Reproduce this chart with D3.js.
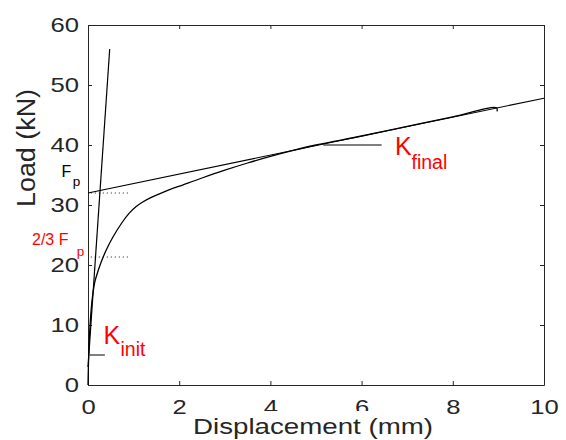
<!DOCTYPE html>
<html><head><meta charset="utf-8">
<script src="https://cdn.jsdelivr.net/npm/d3@7"></script>
<style>
body{margin:0;background:#fff;}
text{font-family:"Liberation Sans",Arial,Helvetica,sans-serif;}
</style></head>
<body><svg id="c" width="566" height="440"></svg>
<script>
const xTicks=[0,2,4,6,8,10];
const yTicks=[0,10,20,30,40,50,60];
const curveX=[0,0.01,0.025,0.045,0.07,0.1,0.15,0.22,0.3,0.4,0.55,0.74,0.9,1.05,1.2,1.4,1.67,2.1,2.5,3.0,3.5,4.0,4.5,5.0,6.0,7.0,8.0,8.96,8.97];
const curveY=[0,3.5,7,10,12.6,14.8,17.2,19.0,20.7,22.5,24.7,27.0,28.6,29.7,30.5,31.3,32.2,33.4,34.5,35.8,37.0,38.1,39.1,40.0,41.5,43.1,44.7,46.2,45.6];
const finalX=[0,10], finalY=[32,47.8];
const initX=[0,0.476], initY=[3,56];
const fpY=32, twoThirdFpY=21.33, dottedX=[0.06,0.92];
const kinitPtrX=[0.044,0.37], kinitPtrY=5;
const kfinalPtrX=[5.16,6.44], kfinalPtrY=40;

const svg=d3.select("#c");
const L=88,T=25,W=456,H=360;
const x=d3.scaleLinear().domain([0,10]).range([L,L+W]);
const y=d3.scaleLinear().domain([0,60]).range([T+H,T]);
const axCol="#262626";

function styleAxis(g){
  g.selectAll("path.domain").attr("stroke",axCol).attr("stroke-width",1);
  g.selectAll(".tick line").attr("stroke",axCol);
  g.selectAll("text").attr("fill",axCol).attr("font-size",21)
   .attr("font-family","Liberation Sans, Arial, sans-serif");
}
const gx=svg.append("g").attr("transform",`translate(0,${T+H})`)
 .call(d3.axisBottom(x).tickValues(xTicks).tickFormat(d3.format("d")).tickSizeInner(-4).tickSizeOuter(0).tickPadding(10));
styleAxis(gx);
gx.selectAll("text").attr("dy",0).attr("y",29);
const gy=svg.append("g").attr("transform",`translate(${L},0)`)
 .call(d3.axisLeft(y).tickValues(yTicks).tickFormat(d3.format("d")).tickSizeInner(-4).tickSizeOuter(0).tickPadding(9));
styleAxis(gy);
const gt=svg.append("g").attr("transform",`translate(0,${T})`)
 .call(d3.axisTop(x).tickValues(xTicks).tickFormat("").tickSizeInner(-4).tickSizeOuter(0));
styleAxis(gt);
const gr=svg.append("g").attr("transform",`translate(${L+W},0)`)
 .call(d3.axisRight(y).tickValues(yTicks).tickFormat("").tickSizeInner(-4).tickSizeOuter(0));
styleAxis(gr);
svg.selectAll(".tick text").each(function(){
  const len=this.getComputedTextLength();
  if(len>0) d3.select(this).attr("textLength",len*1.22).attr("lengthAdjust","spacingAndGlyphs");
});

const line=d3.line().x(d=>x(d[0])).y(d=>y(d[1]));
[fpY,twoThirdFpY].forEach(v=>{
  svg.append("path").attr("d",line(dottedX.map(d=>[d,v])))
   .attr("stroke","#444").attr("stroke-width",1).attr("stroke-dasharray","1.3,2.7").attr("fill","none");
});
svg.append("path").attr("d",line(finalX.map((d,i)=>[d,finalY[i]])))
 .attr("stroke","#000").attr("stroke-width",1.1).attr("fill","none");
svg.append("path").attr("d",line(initX.map((d,i)=>[d,initY[i]])))
 .attr("stroke","#000").attr("stroke-width",1.2).attr("fill","none");
svg.append("path").attr("d",d3.line().x(d=>x(d[0])).y(d=>y(d[1])).curve(d3.curveCatmullRom.alpha(0.5))(curveX.map((d,i)=>[d,curveY[i]])))
 .attr("stroke","#000").attr("stroke-width",1.3).attr("fill","none");
svg.append("path").attr("d",line(kinitPtrX.map(d=>[d,kinitPtrY]))).attr("stroke","#000").attr("stroke-width",1).attr("fill","none");
svg.append("path").attr("d",line(kfinalPtrX.map(d=>[d,kfinalPtrY]))).attr("stroke","#000").attr("stroke-width",1).attr("fill","none");

const red="#ff0000";
svg.append("text").attr("x",395).attr("y",155).attr("font-size",25).attr("fill",red).text("K");
svg.append("text").attr("x",411.5).attr("y",168.5).attr("font-size",19.5).attr("fill",red).text("final");
svg.append("text").attr("x",103.5).attr("y",343.5).attr("font-size",25).attr("fill",red).text("K");
svg.append("text").attr("x",120.5).attr("y",355.5).attr("font-size",19.5).attr("fill",red).text("init");
svg.append("text").attr("x",61.5).attr("y",176.7).attr("font-size",16).attr("fill","#000").text("F");
svg.append("text").attr("x",72.8).attr("y",185.5).attr("font-size",13.5).attr("fill","#000").text("p");
svg.append("text").attr("x",32).attr("y",245).attr("font-size",16).attr("fill",red).text("2/3 F");
svg.append("text").attr("x",76.8).attr("y",255.5).attr("font-size",13.5).attr("fill",red).text("p");

svg.append("rect").attr("x",190).attr("y",411).attr("width",248).attr("height",29).attr("fill","#fff");
svg.append("text").attr("x",313).attr("y",434).attr("text-anchor","middle").attr("font-size",22)
 .attr("fill",axCol).attr("textLength",240).attr("lengthAdjust","spacingAndGlyphs").text("Displacement (mm)");
svg.append("text").attr("transform","translate(35,148) rotate(-90)").attr("text-anchor","middle").attr("font-size",25)
 .attr("fill",axCol).attr("textLength",118).attr("lengthAdjust","spacingAndGlyphs").text("Load (kN)");
</script></body></html>
